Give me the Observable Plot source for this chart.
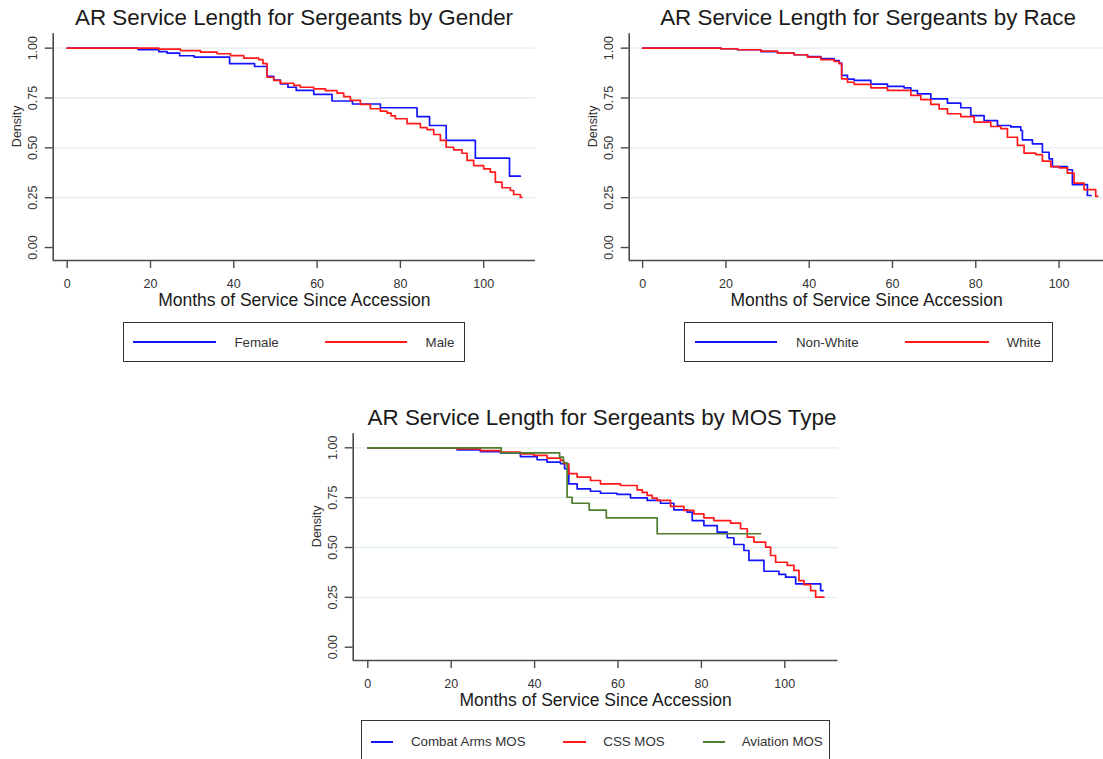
<!DOCTYPE html>
<html><head><meta charset="utf-8">
<script src="https://cdn.jsdelivr.net/npm/d3@7"></script>
<script src="https://cdn.jsdelivr.net/npm/@observablehq/plot@0.6"></script>
<style>
html,body{margin:0;padding:0;background:#fff;}
body{width:1103px;height:759px;position:relative;overflow:hidden;font-family:"Liberation Sans",Arial,sans-serif;}
.panel{position:absolute;}
.txt{position:absolute;white-space:nowrap;line-height:1;}
.box{position:absolute;border:1.8px solid #333;box-sizing:border-box;background:#fff;}
.swatch{position:absolute;height:2px;}
</style></head><body>
<script>
// ---------- data ----------
const monthTicks = [0, 20, 40, 60, 80, 100];
const densityTicks = [0, 0.25, 0.5, 0.75, 1];
const gridTicks = [0.25, 0.5, 0.75, 1];

const titles = ["AR Service Length for Sergeants by Gender", "AR Service Length for Sergeants by Race", "AR Service Length for Sergeants by MOS Type"];
const xTitle = "Months of Service Since Accession";
const yTitle = "Density";

const genderLabels = ["Female", "Male"];
const raceLabels = ["Non-White", "White"];
const mosLabels = ["Combat Arms MOS", "CSS MOS", "Aviation MOS"];

const femaleMonths = [0, 17, 22, 24, 27, 30.5, 39, 45, 48, 49.6, 51.2, 53, 55, 59.2, 63.6, 68.5, 75.2, 84, 87, 91, 98, 106.2, 108.8];
const femaleSurv   = [1, 0.993, 0.983, 0.975, 0.962, 0.955, 0.922, 0.908, 0.858, 0.84, 0.821, 0.804, 0.788, 0.768, 0.735, 0.72, 0.701, 0.657, 0.612, 0.537, 0.448, 0.358, 0.358];

const maleMonths = [0, 17.6, 22, 27.2, 32, 36, 39.2, 42.4, 46, 47, 48, 49.6, 51.2, 54.4, 56, 59.2, 62, 64.8, 66.4, 68, 70.4, 72.8, 75.2, 76.8, 77.8, 78.8, 81.6, 84.8, 86.4, 88, 89.6, 91, 92.8, 94.8, 96, 97.6, 100, 101.6, 102.8, 104.4, 106.4, 107.2, 108.8, 109.2];
const maleSurv   = [1, 1, 0.995, 0.988, 0.98, 0.972, 0.963, 0.95, 0.942, 0.922, 0.854, 0.838, 0.824, 0.813, 0.804, 0.796, 0.787, 0.774, 0.757, 0.738, 0.718, 0.696, 0.684, 0.674, 0.66, 0.646, 0.621, 0.601, 0.591, 0.567, 0.537, 0.503, 0.49, 0.473, 0.437, 0.411, 0.395, 0.378, 0.328, 0.3, 0.286, 0.266, 0.252, 0.252];

const nonWhiteMonths = [0, 15, 18.8, 22.8, 28.4, 32.4, 36.4, 39.6, 42.8, 46, 47.2, 47.8, 49.2, 50.8, 54.8, 58.8, 62.8, 64.4, 66, 69.2, 73.2, 76.4, 78.8, 82, 85.2, 88.4, 90.8, 91.2, 93.6, 96, 97.6, 98.4, 102, 103.2, 106.8, 107.7];
const nonWhiteSurv   = [1, 1, 0.997, 0.992, 0.983, 0.975, 0.967, 0.958, 0.948, 0.938, 0.925, 0.863, 0.845, 0.838, 0.82, 0.808, 0.801, 0.787, 0.771, 0.746, 0.724, 0.701, 0.662, 0.637, 0.612, 0.605, 0.587, 0.54, 0.52, 0.478, 0.445, 0.406, 0.39, 0.316, 0.261, 0.261];

const whiteMonths = [0, 15, 18.8, 22.8, 28.4, 32.4, 36.4, 39.6, 42.8, 46, 47.2, 47.8, 49.2, 50.8, 54.8, 58.8, 64.4, 66.8, 69.2, 71.2, 73.2, 76.4, 79.6, 83.6, 86, 87.6, 90, 91.6, 94.4, 96, 98, 100, 102, 103.6, 106, 108.8, 109.3];
const whiteSurv   = [1, 1, 0.997, 0.992, 0.985, 0.975, 0.967, 0.955, 0.942, 0.933, 0.922, 0.846, 0.829, 0.818, 0.801, 0.788, 0.763, 0.742, 0.718, 0.695, 0.671, 0.657, 0.629, 0.607, 0.596, 0.553, 0.512, 0.473, 0.466, 0.433, 0.406, 0.4, 0.373, 0.323, 0.29, 0.257, 0.257];

const combatMonths = [0, 15, 21.4, 27, 31.8, 36.6, 40.6, 43, 46.2, 47.2, 48.2, 50.2, 53.4, 55.8, 59.8, 63, 67, 70.2, 73.4, 76.6, 77.8, 80.6, 83.8, 86.2, 87.8, 90.2, 91.4, 95, 98.6, 100.2, 102.6, 108.6, 109.2];
const combatSurv   = [1, 1, 0.99, 0.981, 0.975, 0.956, 0.94, 0.928, 0.92, 0.895, 0.819, 0.794, 0.782, 0.772, 0.766, 0.749, 0.736, 0.722, 0.689, 0.677, 0.635, 0.61, 0.577, 0.549, 0.515, 0.485, 0.435, 0.381, 0.365, 0.351, 0.318, 0.284, 0.284];

const cssMonths = [0, 15, 21.4, 27, 31.8, 36.6, 39.8, 43, 46.2, 47, 48.2, 50.2, 53.4, 55.8, 60.6, 64.6, 65.8, 67, 68.2, 69.4, 72.6, 75.8, 78.2, 80.6, 83, 87, 89.4, 91, 92.6, 95.4, 96.6, 97.8, 100.6, 102.2, 103.4, 104.6, 106.2, 107.4, 109.4];
const cssSurv   = [1, 1, 0.995, 0.986, 0.978, 0.97, 0.962, 0.948, 0.937, 0.92, 0.87, 0.853, 0.836, 0.819, 0.811, 0.789, 0.776, 0.761, 0.748, 0.736, 0.706, 0.686, 0.669, 0.649, 0.635, 0.622, 0.594, 0.552, 0.527, 0.502, 0.46, 0.426, 0.41, 0.385, 0.334, 0.314, 0.284, 0.251, 0.251];

const aviationMonths = [0, 32, 46, 46.9, 47.8, 49, 53.1, 57.2, 69.4, 94.2];
const aviationSurv   = [1, 0.975, 0.953, 0.925, 0.752, 0.722, 0.687, 0.649, 0.569, 0.569];

// ---------- styles ----------
const BLUE = "#1414ff", RED = "#ff1a1a", GREEN = "#4e7d2e";
const AXIS = "#4a4a4a", GRID = "#e3eef0", TEXT = "#333", TITLE = "#1a1a1a";
const FONT = '"Liberation Sans", Arial, sans-serif';

function rows(months, surv) { return months.map((t, i) => ({t, s: surv[i]})); }

function makePanel(cfg) {
  const {series, xDomain, yDomain, width, height, ml, mt, mr, mb} = cfg;
  const marks = [
    Plot.ruleY(gridTicks, {stroke: GRID, strokeWidth: 1.3}),
    Plot.ruleX([xDomain[0]], {stroke: AXIS, strokeWidth: 1.6}),
    Plot.ruleY([yDomain[0]], {stroke: AXIS, strokeWidth: 1.6}),
    Plot.axisX({ticks: monthTicks, tickSize: 8, tickPadding: 10.5, fontSize: 12.5, color: AXIS, fill: TEXT, strokeWidth: 1.4, label: null}),
    Plot.axisY({ticks: densityTicks, tickFormat: d => d.toFixed(2), tickRotate: -90, tickSize: 8, tickPadding: 8.5, fontSize: 12.5, color: AXIS, fill: TEXT, strokeWidth: 1.4, label: null}),
    Plot.text([xTitle], {text: d => d, frameAnchor: "bottom", dy: 45.5, lineAnchor: "bottom", fontSize: 17.5, fill: TITLE}),
    Plot.text([yTitle], {text: d => d, frameAnchor: "left", rotate: -90, dx: -32, lineAnchor: "bottom", fontSize: 12.5, fill: TEXT}),
    ...series.map(s => Plot.line(rows(s.months, s.surv), {x: "t", y: "s", curve: "step-after", stroke: s.color, strokeWidth: 1.7}))
  ];
  const svg = Plot.plot({
    width, height,
    marginLeft: ml, marginTop: mt, marginRight: mr, marginBottom: mb,
    x: {domain: xDomain, axis: null},
    y: {domain: yDomain, axis: null},
    style: {fontFamily: FONT, background: "transparent", overflow: "visible"},
    marks
  });
  const wrap = document.createElement("div");
  wrap.className = "panel";
  wrap.style.left = cfg.left + "px";
  wrap.style.top = cfg.top + "px";
  wrap.appendChild(svg);
  document.body.appendChild(wrap);
}

function text(str, x, baseline, size, anchor, color) {
  const d = document.createElement("div");
  d.className = "txt";
  d.textContent = str;
  d.style.fontSize = size + "px";
  d.style.color = color || TEXT;
  d.style.left = x + "px";
  d.style.top = (baseline - 0.8465 * size) + "px";
  if (anchor === "middle") d.style.transform = "translateX(-50%)";
  document.body.appendChild(d);
}

function legend(box, lineY, baseline, items) {
  const b = document.createElement("div");
  b.className = "box";
  b.style.left = box.l + "px"; b.style.top = box.t + "px";
  b.style.width = (box.r - box.l) + "px"; b.style.height = (box.b - box.t) + "px";
  document.body.appendChild(b);
  items.forEach(it => {
    const s = document.createElement("div");
    s.className = "swatch";
    s.style.left = it.x1 + "px"; s.style.width = (it.x2 - it.x1) + "px";
    s.style.top = (lineY - 1) + "px"; s.style.background = it.color;
    document.body.appendChild(s);
    text(it.label, it.tx, baseline, 13.3, "start", TEXT);
  });
}

// ---------- panels ----------
makePanel({
  left: 0, top: 0, width: 550, height: 312, ml: 52.7, mt: 33.3, mr: 15, mb: 52,
  xDomain: [-3.36, 112.44], yDomain: [-0.065, 1.072],
  series: [
    {months: femaleMonths, surv: femaleSurv, color: BLUE},
    {months: maleMonths, surv: maleSurv, color: RED}
  ]
});
makePanel({
  left: 575.6, top: 0, width: 527.4, height: 312, ml: 52.7, mt: 33.3, mr: 0, mb: 52,
  xDomain: [-3.22, 110.76], yDomain: [-0.065, 1.072],
  series: [
    {months: nonWhiteMonths, surv: nonWhiteSurv, color: BLUE},
    {months: whiteMonths, surv: whiteSurv, color: RED}
  ]
});
makePanel({
  left: 300, top: 400, width: 550, height: 312, ml: 52.7, mt: 33.3, mr: 12.5, mb: 52,
  xDomain: [-3.5, 112.76], yDomain: [-0.0667, 1.0702],
  series: [
    {months: combatMonths, surv: combatSurv, color: BLUE},
    {months: cssMonths, surv: cssSurv, color: RED},
    {months: aviationMonths, surv: aviationSurv, color: GREEN}
  ]
});

// ---------- titles ----------
text(titles[0], 294, 25.7, 22.4, "middle", TITLE);
text(titles[1], 868, 25.7, 22.4, "middle", TITLE);
text(titles[2], 602, 425.7, 22.4, "middle", TITLE);

// ---------- legends ----------
legend({l: 122.8, t: 321.7, r: 465, b: 361.7}, 341.7, 347, [
  {x1: 133.3, x2: 215.8, color: BLUE, tx: 234.4, label: genderLabels[0]},
  {x1: 324.6, x2: 407, color: RED, tx: 425.6, label: genderLabels[1]}
]);
legend({l: 684, t: 321.7, r: 1052.6, b: 361.7}, 341.7, 347, [
  {x1: 694.6, x2: 777.5, color: BLUE, tx: 795.9, label: raceLabels[0]},
  {x1: 905.2, x2: 989.2, color: RED, tx: 1006.8, label: raceLabels[1]}
]);
legend({l: 361, t: 720, r: 829.8, b: 790}, 741.7, 746.7, [
  {x1: 370.7, x2: 393.3, color: BLUE, tx: 411, label: mosLabels[0]},
  {x1: 563.3, x2: 586, color: RED, tx: 603.3, label: mosLabels[1]},
  {x1: 702.7, x2: 725, color: GREEN, tx: 741.7, label: mosLabels[2]}
]);
</script>
</body></html>
